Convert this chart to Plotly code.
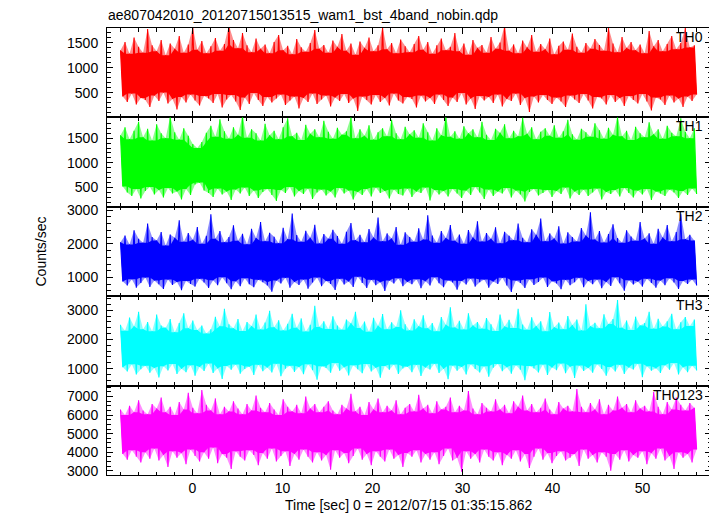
import numpy as np
import plotly.graph_objects as go

# ---------------- data ----------------
# For every 0.5 s stretch of the light curve: the peak (hi) and trough (lo) count rate.
t_start, t_end = -8.0, 56.0
n_bins = 128

th0_hi = [1350, 1520, 1280, 1610, 1420, 1300, 1780, 1450, 1330, 1560, 1250, 1490, 1380, 1640, 1300, 1470,
          1820, 1360, 1540, 1290, 1430, 1600, 1340, 1480, 1850, 1560, 1390, 1700, 1450, 1310, 1590, 1380,
          1470, 1290, 1520, 1660, 1350, 1440, 1270, 1580, 1410, 1320, 1500, 1760, 1380, 1460, 1300, 1550,
          1420, 1680, 1340, 1490, 1260, 1530, 1400, 1610, 1330, 1450, 1820, 1370, 1500, 1290, 1570, 1430,
          1310, 1480, 1640, 1360, 1520, 1280, 1450, 1590, 1350, 1420, 1700, 1330, 1490, 1260, 1560, 1400,
          1460, 1300, 1620, 1380, 1510, 1850, 1340, 1470, 1290, 1550, 1410, 1660, 1320, 1480, 1370, 1590,
          1270, 1440, 1530, 1360, 1690, 1420, 1300, 1500, 1380, 1580, 1460, 1340, 1810, 1490, 1310, 1620,
          1400, 1520, 1350, 1470, 1290, 1740, 1430, 1560, 1330, 1480, 1640, 1370, 1500, 1800, 1410, 1450]
th0_lo = [420, 310, 480, 260, 390, 350, 210, 440, 330, 500, 280, 370, 160, 410, 300, 460,
          340, 240, 430, 380, 290, 470, 200, 360, 450, 320, 150, 400, 270, 490, 350, 230,
          410, 300, 380, 460, 250, 340, 420, 180, 390, 310, 480, 270, 360, 440, 220, 400,
          330, 470, 290, 380, 130, 420, 350, 260, 450, 310, 390, 240, 480, 340, 280, 410,
          370, 200, 440, 320, 390, 270, 460, 350, 230, 400, 310, 490, 260, 380, 170, 430,
          340, 410, 290, 460, 220, 370, 330, 480, 250, 390, 110, 420, 300, 450, 350, 270,
          400, 320, 210, 440, 360, 290, 470, 340, 180, 410, 380, 260, 450, 310, 390, 230,
          430, 350, 280, 470, 320, 140, 400, 360, 250, 440, 300, 380, 210, 420, 330, 460]

th1_hi = [1560, 1720, 1480, 1650, 1830, 1520, 1690, 1450, 1780, 1600, 1500, 1940, 1620, 1470, 1700, 1550,
          1380, 1300, 1420, 1610, 1750, 1530, 1880, 1640, 1490, 1720, 1570, 1960, 1510, 1680, 1600, 1450,
          1790, 1560, 1650, 1480, 1720, 1900, 1540, 1610, 1460, 1770, 1590, 1680, 1520, 1850, 1630, 1490,
          1710, 1570, 1640, 1930, 1500, 1680, 1550, 1760, 1470, 1620, 1700, 1540, 1870, 1600, 1480, 1730,
          1580, 1660, 1510, 1800, 1620, 1450, 1700, 1560, 1950, 1530, 1640, 1490, 1740, 1600, 1680, 1520,
          1830, 1570, 1460, 1690, 1610, 1780, 1500, 1650, 1540, 1920, 1590, 1720, 1480, 1630, 1700, 1550,
          1760, 1510, 1640, 1870, 1580, 1470, 1690, 1620, 1530, 1800, 1660, 1490, 1710, 1570, 1940, 1540,
          1650, 1460, 1730, 1600, 1520, 1820, 1580, 1680, 1490, 1750, 1610, 1540, 1900, 1630, 1500, 1700]
th1_lo = [520, 400, 330, 470, 280, 430, 510, 360, 450, 300, 490, 380, 420, 260, 470, 350,
          560, 600, 440, 390, 310, 480, 360, 420, 250, 460, 380, 500, 330, 440, 290, 410,
          470, 350, 230, 450, 390, 510, 320, 430, 370, 480, 270, 400, 460, 340, 420, 300,
          490, 380, 440, 260, 410, 350, 470, 320, 500, 390, 430, 280, 460, 370, 340, 480,
          310, 420, 390, 500, 240, 450, 360, 430, 320, 470, 380, 290, 440, 350, 510, 400,
          270, 460, 330, 420, 380, 490, 300, 440, 360, 220, 410, 470, 340, 390, 450, 310,
          430, 370, 500, 280, 420, 350, 460, 330, 400, 480, 260, 410, 370, 450, 320, 490,
          390, 300, 440, 360, 470, 250, 420, 380, 330, 460, 400, 290, 430, 350, 480, 370]

th2_hi = [2050, 2250, 1980, 2400, 2150, 2030, 2600, 2200, 2100, 2350, 1950, 2280, 2180, 2700, 2060, 2320,
          2120, 2500, 2000, 2240, 2880, 2150, 2380, 2050, 2200, 2550, 2090, 2300, 1990, 2450, 2170, 2650,
          2080, 2330, 2210, 2020, 2480, 2140, 2900, 2260, 2060, 2390, 2180, 2570, 2010, 2290, 2150, 2420,
          2230, 2000, 2360, 2620, 2110, 2270, 2050, 2440, 2190, 2780, 2080, 2310, 2160, 2500, 1970, 2340,
          2200, 2060, 2460, 2130, 2850, 2250, 2030, 2380, 2170, 2560, 2090, 2280, 2000, 2410, 2190, 2670,
          2070, 2320, 2150, 2490, 2020, 2360, 2240, 2110, 2600, 2180, 2050, 2430, 2270, 2750, 2080, 2310,
          2160, 2520, 2010, 2340, 2200, 2070, 2470, 2250, 2940, 2130, 2380, 2040, 2290, 2580, 2170, 2030,
          2400, 2220, 2090, 2650, 2160, 2310, 2000, 2450, 2190, 2560, 2080, 2350, 2880, 2140, 2270, 2100]
th2_lo = [880, 760, 950, 700, 840, 1000, 720, 910, 800, 660, 940, 780, 870, 620, 900, 810,
          730, 960, 850, 690, 920, 770, 1010, 830, 650, 890, 740, 980, 800, 710, 930, 860,
          760, 580, 910, 820, 990, 700, 870, 780, 940, 670, 850, 1000, 740, 900, 810, 630,
          960, 790, 880, 720, 1020, 840, 690, 930, 770, 860, 600, 910, 820, 980, 740, 870,
          800, 950, 680, 890, 760, 1010, 830, 710, 920, 850, 640, 900, 790, 970, 730, 860,
          940, 700, 880, 810, 990, 760, 570, 910, 840, 690, 950, 780, 870, 1000, 720, 890,
          820, 650, 930, 770, 860, 990, 710, 900, 800, 940, 680, 870, 750, 1010, 830, 610,
          920, 790, 880, 730, 960, 840, 700, 910, 770, 980, 850, 660, 900, 810, 940, 760]

th3_hi = [2500, 2300, 2750, 2450, 2950, 2350, 2600, 2280, 2850, 2480, 2400, 2700, 2250, 2560, 2900, 2380,
          2650, 2320, 2480, 2200, 2350, 2780, 2450, 3050, 2520, 2380, 2700, 2290, 2600, 2460, 2850, 2340,
          2580, 2980, 2420, 2660, 2310, 2540, 2880, 2400, 2720, 2270, 2500, 3150, 2430, 2620, 2360, 2790,
          2480, 2330, 2680, 2550, 2950, 2390, 2610, 2260, 2740, 2470, 2870, 2350, 2590, 2430, 3000, 2520,
          2310, 2690, 2450, 2830, 2380, 2560, 2280, 2770, 2500, 3100, 2410, 2640, 2340, 2900, 2480, 2600,
          2370, 2730, 2520, 2290, 2850, 2440, 2670, 2390, 3050, 2510, 2330, 2760, 2460, 2620, 2280, 2940,
          2420, 2580, 2350, 2800, 2490, 2680, 2310, 3200, 2450, 2570, 2380, 2860, 2530, 2700, 3350, 2400,
          2650, 2320, 2780, 2480, 2560, 2950, 2370, 2710, 2440, 2620, 2880, 2350, 2590, 2770, 2460, 2680]
th3_lo = [1050, 900, 1150, 800, 980, 1100, 860, 1020, 700, 1080, 940, 1160, 820, 1000, 880, 1120,
          760, 1060, 920, 1180, 850, 1010, 650, 1090, 960, 1140, 830, 990, 1070, 780, 1130, 910,
          1040, 870, 1170, 740, 1000, 1100, 890, 1060, 810, 1150, 950, 620, 1080, 1020, 860, 1190,
          930, 1050, 770, 1120, 980, 840, 1160, 900, 1030, 690, 1090, 960, 1140, 820, 1010, 1070,
          880, 1130, 750, 1040, 970, 1170, 850, 1000, 640, 1110, 930, 1060, 800, 1150, 990, 870,
          1080, 720, 1030, 1160, 910, 1050, 830, 1120, 960, 600, 1090, 1010, 870, 1140, 780, 1040,
          950, 1180, 840, 1070, 680, 1110, 920, 1020, 860, 1150, 990, 760, 1060, 900, 1130, 820,
          1040, 970, 1170, 710, 1080, 930, 1010, 850, 1120, 960, 1190, 800, 1050, 880, 1100, 940]

th0123_hi = [6300, 6000, 6500, 6150, 6800, 6250, 6050, 6600, 6350, 6950, 6150, 6450, 6000, 6700, 6300, 7200,
             6400, 6100, 7350, 6550, 6250, 6900, 6050, 6450, 6200, 6750, 6350, 6050, 6600, 6250, 7050, 6400,
             6150, 6650, 6300, 6000, 6850, 6450, 6200, 6550, 6100, 7000, 6350, 6600, 6150, 6450, 6750, 6250,
             6050, 6550, 6350, 7150, 6200, 6450, 6000, 6700, 6300, 6900, 6150, 6500, 6250, 6800, 6050, 6400,
             6600, 6200, 7100, 6350, 6550, 6100, 6750, 6300, 6450, 6950, 6150, 6500, 6250, 7300, 6350, 6050,
             6650, 6400, 6200, 6850, 6300, 6550, 6100, 6750, 6450, 7050, 6250, 6600, 6150, 6400, 6900, 6300,
             6050, 6700, 6350, 6500, 6200, 7400, 6450, 6150, 6650, 6300, 6850, 6050, 6550, 6250, 7000, 6400,
             6600, 6150, 6800, 6350, 6500, 6200, 7250, 6450, 6050, 6700, 6300, 6950, 6550, 6250, 6650, 6400]
th0123_lo = [3900, 3600, 4100, 3750, 3450, 4000, 3650, 4200, 3550, 3850, 3200, 4050, 3700, 3950, 3350, 4150,
             3800, 3500, 4000, 3650, 4250, 3400, 3900, 3700, 3100, 4050, 3750, 3550, 4100, 3850, 3300, 3950,
             3650, 4200, 3500, 3800, 4050, 3250, 3900, 3600, 4150, 3750, 3450, 4000, 3550, 3850, 3050, 4100,
             3700, 3950, 3400, 3800, 4200, 3600, 3900, 3300, 4050, 3750, 3500, 4150, 3650, 3850, 3200, 3950,
             3750, 4100, 3450, 3900, 3600, 4000, 3350, 3800, 4200, 3550, 3700, 2950, 4050, 3650, 3900, 3450,
             4150, 3750, 3550, 4000, 3300, 3850, 3650, 4100, 3500, 3900, 3150, 3750, 4200, 3600, 3950, 3400,
             3800, 4050, 3550, 3700, 3900, 3250, 4150, 3650, 3850, 3450, 4000, 3750, 3000, 3900, 3600, 4100,
             3500, 3850, 3700, 4050, 3350, 3950, 3650, 4200, 3550, 3800, 3100, 4000, 3700, 3900, 3450, 4150]

band_names = ["TH0", "TH1", "TH2", "TH3", "TH0123"]
band_hi = [th0_hi, th1_hi, th2_hi, th3_hi, th0123_hi]
band_lo = [th0_lo, th1_lo, th2_lo, th3_lo, th0123_lo]

title_text = "ae807042010_20120715013515_wam1_bst_4band_nobin.qdp"
x_title = "Time [sec] 0 = 2012/07/15 01:35:15.862"
y_title = "Counts/sec"

# ---------------- styling ----------------
colors = ["#ff0000", "#00ff00", "#0000ff", "#00ffff", "#ff00ff"]
rgb = [(255, 0, 0), (0, 255, 0), (0, 0, 255), (0, 255, 255), (255, 0, 255)]
y_ranges = [[1, 1800], [110, 1920], [445, 3100], [420, 3480], [2770, 7590]]
y_dticks = [500, 500, 1000, 1000, 1000]
y_minor = [100, 100, 200, 200, 250]
x_range = [-9.5, 57.6]

FONT = "Liberation Sans, Arial, Helvetica, sans-serif"
OFF = 8                      # page body margin of the html page
W, H = 717 - OFF, 516 - OFF
PLOT_L, PLOT_R, PLOT_T, PLOT_B = 107, 711, 27.5, 475.5   # page pixels
ML, MT = PLOT_L - OFF, PLOT_T - OFF
MR, MB = W - (PLOT_R - OFF), H - (PLOT_B - OFF)
PW, PH = PLOT_R - PLOT_L, PLOT_B - PLOT_T


def px_x(px):
    return (px - PLOT_L) / PW


def px_y(py):
    return 1 - (py - PLOT_T) / PH


# time grid: peaks and troughs interleaved (2 samples per 0.5 s stretch)
time = np.linspace(t_start, t_end, 2 * n_bins)
t_hi, t_lo = time[0::2], time[1::2]

fig = go.Figure()
n_panels = len(band_names)
layout = {}
annotations = []
for i in range(n_panels):
    suffix = "" if i == 0 else str(i + 1)
    xa, ya = "x" + suffix, "y" + suffix
    hi, lo = band_hi[i], band_lo[i]
    r, g, b = rgb[i]
    rate = []
    for a, c in zip(hi, lo):
        rate.extend([a, c])
    # light envelope (anti-aliased spiky edges of the dense light curve)
    fig.add_trace(go.Scatter(
        x=list(t_hi) + list(t_lo[::-1]), y=list(hi) + list(lo[::-1]),
        mode="lines", fill="toself", fillcolor=f"rgba({r},{g},{b},0.45)", line=dict(width=0),
        xaxis=xa, yaxis=ya, showlegend=False, hoverinfo="skip"))
    # solid core: the band that every neighbourhood of samples covers
    core_hi = [min(hi[max(0, k - 1):k + 2]) for k in range(n_bins)]
    core_lo = [max(lo[max(0, k - 1):k + 2]) for k in range(n_bins)]
    fig.add_trace(go.Scatter(
        x=list(t_hi) + list(t_lo[::-1]), y=core_hi + core_lo[::-1],
        mode="lines", fill="toself", fillcolor=colors[i], line=dict(width=0),
        xaxis=xa, yaxis=ya, showlegend=False, hoverinfo="skip"))
    # the light curve itself
    fig.add_trace(go.Scatter(
        x=time, y=rate, mode="lines", line=dict(color=colors[i], width=1.1),
        xaxis=xa, yaxis=ya, showlegend=False, hoverinfo="skip"))
    top = 1 - i / n_panels
    bot = 1 - (i + 1) / n_panels
    layout["xaxis" + suffix] = dict(
        domain=[0, 1], anchor=ya, range=x_range, showgrid=False, zeroline=False,
        showline=True, linecolor="black", linewidth=1, mirror="ticks",
        ticks="inside", ticklen=6, tickwidth=1, tickcolor="black",
        tick0=0, dtick=10, showticklabels=(i == n_panels - 1), ticklabelstandoff=0,
        tickfont=dict(family=FONT, size=14, color="black"),
        minor=dict(ticks="inside", ticklen=3.5, dtick=2, tick0=0, tickcolor="black", showgrid=False),
    )
    layout["yaxis" + suffix] = dict(
        domain=[bot, top], anchor=xa, range=y_ranges[i], showgrid=False, zeroline=False,
        showline=True, linecolor="black", linewidth=1, mirror="ticks",
        ticks="inside", ticklen=6, tickwidth=1, tickcolor="black",
        tick0=0, dtick=y_dticks[i], ticklabelstandoff=5,
        tickfont=dict(family=FONT, size=14, color="black"),
        minor=dict(ticks="inside", ticklen=3.5, dtick=y_minor[i], tick0=0, tickcolor="black", showgrid=False),
    )
    label_y_px = 36.5 + i * PH / n_panels
    annotations.append(dict(
        text=band_names[i], xref="paper", yref="paper",
        x=px_x(705), y=px_y(label_y_px),
        xanchor="right", yanchor="middle", showarrow=False,
        font=dict(family=FONT, size=14, color="black")))

annotations.append(dict(
    text=title_text, xref="paper", yref="paper",
    x=px_x(106), y=px_y(14.5), xanchor="left", yanchor="middle", showarrow=False,
    font=dict(family=FONT, size=14, color="black")))
annotations.append(dict(
    text=x_title, xref="paper", yref="paper",
    x=0.5, y=px_y(506), xanchor="center", yanchor="middle", showarrow=False,
    font=dict(family=FONT, size=14, color="black")))
annotations.append(dict(
    text=y_title, xref="paper", yref="paper", textangle=-90,
    x=px_x(40), y=0.5, xanchor="center", yanchor="middle", showarrow=False,
    font=dict(family=FONT, size=14, color="black")))

fig.update_layout(
    width=W, height=H, margin=dict(l=ML, r=MR, t=MT, b=MB, pad=0, autoexpand=False),
    paper_bgcolor="white", plot_bgcolor="white",
    annotations=annotations, **layout)

fig.write_html("out.html")
